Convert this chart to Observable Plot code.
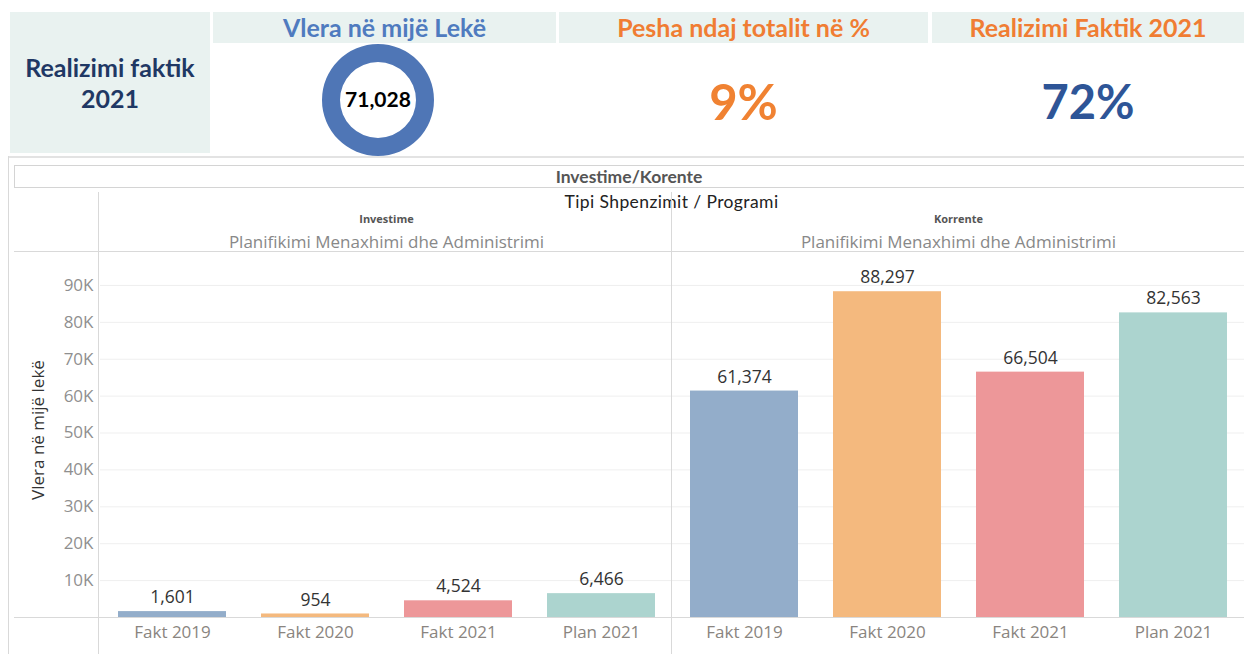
<!DOCTYPE html>
<html>
<head>
<meta charset="utf-8">
<script src="https://cdn.jsdelivr.net/npm/d3@7"></script>
<script src="https://cdn.jsdelivr.net/npm/@observablehq/plot@0.6"></script>
<style>
  html, body { margin: 0; padding: 0; background: #fff; }
  #root { position: relative; width: 1244px; height: 654px; overflow: hidden; font-family: Lato, "Open Sans", sans-serif; }
  .abs { position: absolute; }
  .hdr { background: #e9f2f0; }
  .ctr { text-align: center; white-space: nowrap; }
  .line { position: absolute; background: #d9d9d9; }
</style>
</head>
<body>
<div id="root"></div>
<script>
// ---------- data ----------
const categories = ["Fakt 2019", "Fakt 2020", "Fakt 2021", "Plan 2021"];
const types = ["Investime", "Korrente"];
const investimeValues = [1601, 954, 4524, 6466];
const korrenteValues = [61374, 88297, 66504, 82563];
const barColors = ["#93adca", "#f4b97e", "#ed9799", "#acd4cf"];
const yTicks = [10000, 20000, 30000, 40000, 50000, 60000, 70000, 80000, 90000];
const programLabel = "Planifikimi Menaxhimi dhe Administrimi";
const kpiTitle = ["Realizimi faktik", "2021"];
const kpiHeaders = ["Vlera në mijë Lekë", "Pesha ndaj totalit në %", "Realizimi Faktik 2021"];
const kpiTotal = 71028;
const kpiShare = "9%";
const kpiRealization = "72%";
const chartTitle = "Investime/Korente";
const chartSubtitle = "Tipi Shpenzimit / Programi";
const yLabel = "Vlera në mijë lekë";

const rows = [
  ...categories.map((c, i) => ({type: "Investime", cat: c, value: investimeValues[i]})),
  ...categories.map((c, i) => ({type: "Korrente", cat: c, value: korrenteValues[i]}))
];

const root = document.getElementById("root");
function el(cls, style, html) {
  const d = document.createElement("div");
  d.className = cls;
  Object.assign(d.style, style);
  if (html != null) d.innerHTML = html;
  root.appendChild(d);
  return d;
}

// ---------- KPI band ----------
el("abs hdr", {left: "10px", top: "12px", width: "200px", height: "141px"});
el("abs ctr", {left: "10px", top: "52px", width: "200px", fontSize: "25px", fontWeight: "700", color: "#1f3864", lineHeight: "31px"},
   kpiTitle.join("<br>"));
const hdrBoxes = [[213, 343, "#4f7bbf"], [559, 369, "#f07d33"], [932, 312, "#f07d33"]];
hdrBoxes.forEach(([x, w, col], i) => {
  el("abs hdr ctr", {left: x + "px", top: "12px", width: w + "px", height: "31px", lineHeight: "31px",
     fontSize: "25px", fontWeight: "700", color: col}, kpiHeaders[i]);
});
el("abs ctr", {left: "559px", top: "72px", width: "369px", fontSize: "49px", fontWeight: "700", color: "#f08232", lineHeight: "58px"}, kpiShare);
el("abs ctr", {left: "932px", top: "72px", width: "312px", fontSize: "47px", fontWeight: "700", color: "#2e5597", lineHeight: "58px"}, kpiRealization);

// donut
const donut = d3.create("svg").attr("width", 114).attr("height", 114)
  .style("position", "absolute").style("left", "321px").style("top", "43px");
const arc = d3.arc().innerRadius(38).outerRadius(56);
donut.append("g").attr("transform", "translate(57,57)")
  .selectAll("path").data(d3.pie()([kpiTotal])).join("path")
  .attr("d", arc).attr("fill", "#4f76b6");
donut.append("text").attr("x", 57).attr("y", 57).attr("dy", "0.35em").attr("text-anchor", "middle")
  .attr("font-family", "Lato, sans-serif").attr("font-weight", "700").attr("font-size", 21).attr("fill", "#000")
  .text(d3.format(",")(kpiTotal));
root.appendChild(donut.node());

// ---------- chart frame ----------
el("line", {left: "8px", top: "156px", width: "1236px", height: "2px", background: "#e3e3e3"});
el("line", {left: "8px", top: "156px", width: "1px", height: "498px"});
el("abs", {left: "14px", top: "165px", width: "1230px", height: "21px", border: "1px solid #d4d4d4", borderRight: "none"});
el("abs ctr", {left: "14px", top: "165px", width: "1230px", height: "23px", lineHeight: "23px", fontSize: "17.5px", fontWeight: "700", color: "#555"}, chartTitle);
el("abs ctr", {left: "99px", top: "191px", width: "1145px", lineHeight: "22px", fontSize: "17.5px", color: "#222", letterSpacing: "0.4px"}, chartSubtitle);

// ---------- bar chart ----------
const chart = Plot.plot({
  width: 1244,
  height: 462,
  marginLeft: 99,
  marginRight: 0,
  marginTop: 59,
  marginBottom: 37,
  style: {fontFamily: "'Open Sans', sans-serif", fontSize: "17px", background: "transparent", overflow: "visible"},
  fx: {domain: types, padding: 0, axis: null},
  x: {domain: categories, paddingInner: 0.245, paddingOuter: 0.1225, axis: null},
  y: {domain: [0, 99200], axis: null},
  color: {domain: categories, range: barColors},
  marks: [
    Plot.gridY(yTicks, {stroke: "#efefef", strokeOpacity: 1}),
    Plot.barY(rows, {fx: "type", x: "cat", y: "value", fill: "cat"}),
    Plot.text(rows, {fx: "type", x: "cat", y: "value", text: d => d3.format(",")(d.value), dy: -14, fill: "#333", fontSize: 17.5}),
    Plot.axisY({ticks: yTicks, tickFormat: d => d / 1000 + "K", tickSize: 0, tickPadding: 7, fill: "#8f8f8f", fontSize: 17, label: null}),
    Plot.axisX({tickSize: 0, tickPadding: 8, fill: "#8a8580", fontSize: 17, label: null}),
    Plot.text(types, {fx: d => d, frameAnchor: "top", text: d => d, dy: -36, fontWeight: "bold", fontSize: 11, fill: "#555"}),
    Plot.text(types, {fx: d => d, frameAnchor: "top", text: () => programLabel, dy: -16, fontSize: 17, fill: "#888"})
  ]
});
chart.style.position = "absolute";
chart.style.left = "0px";
chart.style.top = "192px";
root.appendChild(chart);

// separators drawn over the chart
el("line", {left: "14px", top: "251px", width: "1230px", height: "1px"});
el("line", {left: "14px", top: "617px", width: "1230px", height: "1px"});
el("line", {left: "98px", top: "192px", width: "1px", height: "462px"});
el("line", {left: "671px", top: "192px", width: "1px", height: "462px"});

// y axis title
el("abs ctr", {left: "37px", top: "430px", transform: "translate(-50%,-50%) rotate(-90deg)", fontFamily: "'Open Sans', sans-serif",
   fontSize: "17px", color: "#333"}, yLabel);
</script>
</body>
</html>
